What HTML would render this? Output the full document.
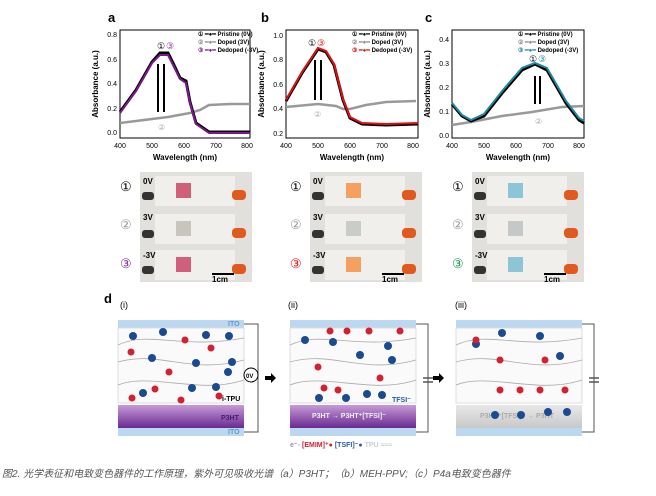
<!DOCTYPE html>
<html><head><meta charset="utf-8"><style>
body{margin:0;background:#fff;width:656px;height:491px;overflow:hidden;font-family:"Liberation Sans",Arial,sans-serif}
</style></head><body>
<svg width="656" height="491" xmlns="http://www.w3.org/2000/svg" font-family="Liberation Sans, Arial, sans-serif">
<g font-weight="bold" font-size="13"><text x="108" y="22">a</text><text x="261" y="22">b</text><text x="425" y="22">c</text><text x="104" y="303">d</text></g>

<g transform="translate(120,0)">
<rect x="0" y="30" width="130" height="108" fill="none" stroke="#000" stroke-width="1"/>
<g font-size="7" text-anchor="end"><text x="-3" y="37">0.8</text><text x="-3" y="62">0.6</text><text x="-3" y="86">0.4</text><text x="-3" y="111">0.2</text><text x="-3" y="135">0.0</text></g>
<polyline fill="none" stroke="#999" stroke-width="2.5" points="0,123 24,120 48,117 70,113 80,110 89,105 110,104 130,104"/>
<polyline fill="none" stroke="#000" stroke-width="3" points="0,112 16,90 32,62 40,53 48,53 54,65 60,78 66,81 70,102 76,123 89,132 130,132"/>
<polyline fill="none" stroke="#7a1a8a" stroke-width="2" points="0,113 16,91 32,63 40,55 48,55 54,67 60,79 66,83 70,103 76,124 89,133 130,133"/>
<line x1="38" y1="64" x2="38" y2="112" stroke="#000" stroke-width="2"/><line x1="44" y1="64" x2="44" y2="112" stroke="#000" stroke-width="2"/>
<text x="37" y="49" font-size="9">①</text><text x="46" y="49" font-size="9" fill="#8a2a9a">③</text>
<text x="38" y="130" font-size="8" fill="#aaa">②</text>
<g font-size="6" font-weight="bold"><text x="78" y="36">① ━●━ Pristine (0V)</text><text x="78" y="44" fill="#888">② ━●━ <tspan fill="#000">Doped (3V)</tspan></text><text x="78" y="52" fill="#7a1a8a">③ ━●━ <tspan fill="#000">Dedoped (-3V)</tspan></text></g>
</g>
<g transform="translate(286,0)">
<rect x="0" y="30" width="132" height="108" fill="none" stroke="#000"/>
<g font-size="7" text-anchor="end"><text x="-3" y="38">1.0</text><text x="-3" y="62">0.8</text><text x="-3" y="87">0.6</text><text x="-3" y="111">0.4</text><text x="-3" y="136">0.2</text></g>
<polyline fill="none" stroke="#999" stroke-width="2.5" points="0,107 32,104 50,106 57,109 64,109 80,105 100,102 130,101"/>
<polyline fill="none" stroke="#000" stroke-width="3" points="0,101 16,73 32,49 40,52 48,65 57,100 64,118 76,124 100,125 132,124"/>
<polyline fill="none" stroke="#e01010" stroke-width="2" points="0,100 16,72 32,48 40,51 48,64 57,99 64,117 76,123 100,124 132,123"/>
<line x1="29" y1="60" x2="29" y2="100" stroke="#000" stroke-width="2"/><line x1="35" y1="60" x2="35" y2="100" stroke="#000" stroke-width="2"/>
<text x="22" y="46" font-size="9">①</text><text x="31" y="46" font-size="9" fill="#e01010">③</text>
<text x="28" y="117" font-size="8" fill="#aaa">②</text>
<g font-size="6" font-weight="bold"><text x="66" y="36">① ━●━ Pristine (0V)</text><text x="66" y="44" fill="#888">② ━●━ <tspan fill="#000">Doped (3V)</tspan></text><text x="66" y="52" fill="#e01010">③ ━●━ <tspan fill="#000">Dedoped (-3V)</tspan></text></g>
</g>
<g transform="translate(452,0)">
<rect x="0" y="30" width="132" height="108" fill="none" stroke="#000"/>
<g font-size="7" text-anchor="end"><text x="-3" y="42">0.4</text><text x="-3" y="66">0.3</text><text x="-3" y="90">0.2</text><text x="-3" y="114">0.1</text><text x="-3" y="138">0.0</text></g>
<polyline fill="none" stroke="#999" stroke-width="2.5" points="0,125 19,122 50,116 80,112 110,107 132,106"/>
<polyline fill="none" stroke="#000" stroke-width="3" points="0,104 10,116 19,121 32,116 51,92 70,70 83,64 95,70 114,103 127,120 132,123"/>
<polyline fill="none" stroke="#1a8aa0" stroke-width="2" points="0,103 10,115 19,120 32,114 51,90 70,68 83,63 95,68 114,101 127,118 132,121"/>
<line x1="83" y1="76" x2="83" y2="104" stroke="#000" stroke-width="2"/><line x1="88" y1="76" x2="88" y2="104" stroke="#000" stroke-width="2"/>
<text x="77" y="62" font-size="9">①</text><text x="86" y="62" font-size="9" fill="#1a8aa0">③</text>
<text x="83" y="124" font-size="8" fill="#aaa">②</text>
<g font-size="6" font-weight="bold"><text x="66" y="36">① ━●━ Pristine (0V)</text><text x="66" y="44" fill="#888">② ━●━ <tspan fill="#000">Doped (3V)</tspan></text><text x="66" y="52" fill="#1a8aa0">③ ━●━ <tspan fill="#000">Dedoped (-3V)</tspan></text></g>
</g>
<g font-size="7" text-anchor="middle">
<text x="120" y="148">400</text><text x="152" y="148">500</text><text x="184" y="148">600</text><text x="216" y="148">700</text><text x="247" y="148">800</text>
<text x="286" y="148">400</text><text x="318" y="148">500</text><text x="350" y="148">600</text><text x="382" y="148">700</text><text x="413" y="148">800</text>
<text x="452" y="148">400</text><text x="484" y="148">500</text><text x="516" y="148">600</text><text x="548" y="148">700</text><text x="579" y="148">800</text>
</g>
<g font-size="8" font-weight="bold" text-anchor="middle">
<text x="185" y="160">Wavelength (nm)</text><text x="352" y="160">Wavelength (nm)</text><text x="518" y="160">Wavelength (nm)</text>
<text transform="translate(98,84) rotate(-90)">Absorbance (a.u.)</text>
<text transform="translate(264,84) rotate(-90)">Absorbance (a.u.)</text>
<text transform="translate(430,84) rotate(-90)">Absorbance (a.u.)</text>
</g>

<g>
<rect x="140" y="172" width="112" height="110" fill="#e2e0dc"/>
<rect x="310" y="172" width="112" height="110" fill="#e2e0dc"/>
<rect x="472" y="172" width="112" height="110" fill="#e2e0dc"/>
<g fill="#f0efec"><rect x="155" y="176" width="80" height="30"/><rect x="155" y="214" width="80" height="30"/><rect x="155" y="250" width="80" height="30"/>
<rect x="325" y="176" width="80" height="30"/><rect x="325" y="214" width="80" height="30"/><rect x="325" y="250" width="80" height="30"/>
<rect x="487" y="176" width="80" height="30"/><rect x="487" y="214" width="80" height="30"/><rect x="487" y="250" width="80" height="30"/></g>
<rect x="176" y="183" width="15" height="15" fill="#d0607a"/><rect x="176" y="221" width="15" height="15" fill="#c8c4be"/><rect x="176" y="257" width="15" height="15" fill="#d0607a"/>
<rect x="346" y="183" width="15" height="15" fill="#f5a060"/><rect x="346" y="221" width="15" height="15" fill="#c8cdc8"/><rect x="346" y="257" width="15" height="15" fill="#f5a060"/>
<rect x="508" y="183" width="15" height="15" fill="#8cc6d6"/><rect x="508" y="221" width="15" height="15" fill="#c4c8c6"/><rect x="508" y="257" width="15" height="15" fill="#8cc6d6"/>
<g fill="#e05a20"><rect x="232" y="190" width="14" height="10" rx="4"/><rect x="232" y="228" width="14" height="10" rx="4"/><rect x="232" y="264" width="14" height="10" rx="4"/>
<rect x="402" y="190" width="14" height="10" rx="4"/><rect x="402" y="228" width="14" height="10" rx="4"/><rect x="402" y="264" width="14" height="10" rx="4"/>
<rect x="564" y="190" width="14" height="10" rx="4"/><rect x="564" y="228" width="14" height="10" rx="4"/><rect x="564" y="264" width="14" height="10" rx="4"/></g>
<g fill="#333"><rect x="142" y="192" width="12" height="8" rx="3"/><rect x="142" y="230" width="12" height="8" rx="3"/><rect x="142" y="266" width="12" height="8" rx="3"/>
<rect x="312" y="192" width="12" height="8" rx="3"/><rect x="312" y="230" width="12" height="8" rx="3"/><rect x="312" y="266" width="12" height="8" rx="3"/>
<rect x="474" y="192" width="12" height="8" rx="3"/><rect x="474" y="230" width="12" height="8" rx="3"/><rect x="474" y="266" width="12" height="8" rx="3"/></g>
<g font-size="8" font-weight="bold"><text x="143" y="184">0V</text><text x="143" y="220">3V</text><text x="143" y="258">-3V</text>
<text x="313" y="184">0V</text><text x="313" y="220">3V</text><text x="313" y="258">-3V</text>
<text x="475" y="184">0V</text><text x="475" y="220">3V</text><text x="475" y="258">-3V</text>
<text x="212" y="282">1cm</text><text x="382" y="282">1cm</text><text x="544" y="282">1cm</text></g>
<g fill="#000"><rect x="212" y="273" width="22" height="2"/><rect x="382" y="273" width="22" height="2"/><rect x="544" y="273" width="22" height="2"/></g>
<g font-size="13"><text x="120" y="191">①</text><text x="120" y="229" fill="#999">②</text><text x="120" y="268" fill="#8a2a9a">③</text>
<text x="290" y="191">①</text><text x="290" y="229" fill="#999">②</text><text x="290" y="268" fill="#e01010">③</text>
<text x="452" y="191">①</text><text x="452" y="229" fill="#999">②</text><text x="452" y="268" fill="#1a9a50">③</text></g>
</g>

<defs>
<linearGradient id="pur" x1="0" y1="0" x2="0" y2="1"><stop offset="0" stop-color="#c79ad8"/><stop offset="1" stop-color="#6a2a90"/></linearGradient>
<linearGradient id="gr" x1="0" y1="0" x2="0" y2="1"><stop offset="0" stop-color="#e8e8e8"/><stop offset="1" stop-color="#c8c8c8"/></linearGradient>
</defs>
<g font-size="9"><text x="120" y="308">(i)</text><text x="288" y="308">(ii)</text><text x="455" y="308">(iii)</text></g>
<g>
<rect x="118" y="320" width="126" height="8" fill="#bcd8f0"/><rect x="118" y="428" width="126" height="8" fill="#bcd8f0"/>
<rect x="118" y="328" width="126" height="75" fill="#fafafa" stroke="#ddd"/>
<rect x="118" y="405" width="126" height="23" fill="url(#pur)"/>
<rect x="290" y="320" width="126" height="8" fill="#bcd8f0"/><rect x="290" y="428" width="126" height="8" fill="#bcd8f0"/>
<rect x="290" y="328" width="126" height="75" fill="#fafafa" stroke="#ddd"/>
<rect x="290" y="405" width="126" height="23" fill="url(#pur)"/>
<rect x="456" y="320" width="126" height="8" fill="#bcd8f0"/><rect x="456" y="428" width="126" height="8" fill="#bcd8f0"/>
<rect x="456" y="328" width="126" height="75" fill="#fafafa" stroke="#ddd"/>
<rect x="456" y="405" width="126" height="23" fill="url(#gr)"/>
<g font-size="7" font-weight="bold"><text x="228" y="326" fill="#5a9ad0">ITO</text><text x="228" y="434" fill="#5a9ad0">ITO</text><text x="221" y="420" fill="#4a1a70">P3HT</text><text x="222" y="401">i-TPU</text>
<text x="312" y="418" fill="#eee">P3HT → P3HT⁺[TFSI]⁻</text><text x="392" y="402" fill="#2a5aa0">TFSI⁻</text>
<text x="480" y="418" fill="#aaa">P3HT⁺[TFSI]⁻ → P3HT</text></g>
<path d="M244,324 H258 V432 H244 M416,324 H428 V432 H416 M582,324 H594 V432 H582" fill="none" stroke="#555"/>
<circle cx="251" cy="375" r="7" fill="#fff" stroke="#000"/><text x="246" y="378" font-size="6" font-weight="bold">0V</text>
<path d="M423,378 H433 M423,382 H433 M589,378 H599 M589,382 H599" stroke="#555" stroke-width="1.5"/>
<path d="M265,376 h6 v-3 l5,5 l-5,5 v-3 h-6z M433,376 h6 v-3 l5,5 l-5,5 v-3 h-6z" fill="#000"/>
<g fill="none" stroke="#aaa" stroke-width="0.8">
<path d="M118,345 C150,330 180,350 244,338 M118,362 C160,350 190,375 244,360 M118,385 C150,372 200,395 244,380"/>
<path d="M290,345 C322,330 352,350 416,338 M290,362 C332,350 362,375 416,360 M290,385 C322,372 372,395 416,380"/>
<path d="M456,345 C488,330 518,350 582,338 M456,362 C498,350 528,375 582,360 M456,385 C488,372 538,395 582,380"/>
</g>
<g fill="#1a4a90">
<circle cx="133" cy="336" r="4"/><circle cx="163" cy="332" r="4"/><circle cx="206" cy="335" r="4"/><circle cx="229" cy="336" r="4"/><circle cx="152" cy="358" r="4"/><circle cx="196" cy="363" r="4"/><circle cx="232" cy="362" r="4"/><circle cx="192" cy="388" r="4"/><circle cx="216" cy="387" r="4"/><circle cx="143" cy="393" r="4"/><circle cx="228" cy="372" r="4"/>
<circle cx="305" cy="340" r="4"/><circle cx="333" cy="342" r="4"/><circle cx="388" cy="346" r="4"/><circle cx="360" cy="355" r="4"/><circle cx="392" cy="360" r="4"/><circle cx="319" cy="398" r="4"/><circle cx="346" cy="398" r="4"/><circle cx="367" cy="394" r="4"/><circle cx="382" cy="395" r="4"/>
<circle cx="476" cy="344" r="4"/><circle cx="502" cy="333" r="4"/><circle cx="540" cy="336" r="4"/><circle cx="560" cy="356" r="4"/><circle cx="495" cy="415" r="4"/><circle cx="521" cy="415" r="4"/><circle cx="548" cy="412" r="4"/><circle cx="567" cy="412" r="4"/>
</g>
<g fill="#d42030">
<circle cx="131" cy="352" r="3.5"/><circle cx="185" cy="340" r="3.5"/><circle cx="211" cy="348" r="3.5"/><circle cx="169" cy="372" r="3.5"/><circle cx="219" cy="396" r="3.5"/><circle cx="132" cy="398" r="3.5"/><circle cx="155" cy="389" r="3.5"/><circle cx="181" cy="400" r="3.5"/>
<circle cx="330" cy="331" r="3.5"/><circle cx="347" cy="331" r="3.5"/><circle cx="369" cy="331" r="3.5"/><circle cx="400" cy="331" r="3.5"/><circle cx="318" cy="367" r="3.5"/><circle cx="324" cy="388" r="3.5"/><circle cx="338" cy="390" r="3.5"/><circle cx="380" cy="378" r="3.5"/>
<circle cx="476" cy="340" r="3.5"/><circle cx="500" cy="360" r="3.5"/><circle cx="545" cy="360" r="3.5"/><circle cx="500" cy="390" r="3.5"/><circle cx="520" cy="390" r="3.5"/><circle cx="540" cy="390" r="3.5"/><circle cx="565" cy="390" r="3.5"/>
</g>
<g font-size="7" font-weight="bold"><text x="290" y="447" fill="#999">e⁻◦ <tspan fill="#d42030">[EMIM]⁺●</tspan> <tspan fill="#2a5aa0">[TSFI]⁻●</tspan> <tspan fill="#ccc">TPU ≈≈≈</tspan></text></g>
</g>
<text x="2" y="477" font-size="10" fill="#555" font-style="italic" font-family="Liberation Sans, Noto Sans CJK SC, sans-serif">图2. 光学表征和电致变色器件的工作原理，紫外可见吸收光谱（a）P3HT；（b）MEH-PPV;（c）P4a电致变色器件</text>
</svg>
</body></html>
